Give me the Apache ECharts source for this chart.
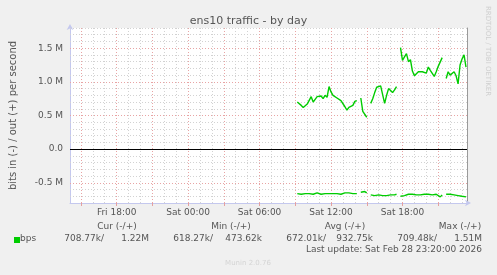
<!DOCTYPE html>
<html><head><meta charset="utf-8">
<script src="https://cdn.jsdelivr.net/npm/echarts@6/dist/echarts.min.js"></script>
<style>html,body{margin:0;padding:0;background:#f0f0f0;}#c{width:497px;height:275px;}</style>
</head><body><div id="c"></div>
<script>
// time in minutes relative to Sat 00:00; samples every 10 minutes starting Sat 09:10
const startMinute = 550;
const stepMinutes = 10;
// out (+) traffic, Mbit/s
const outValues = [0.70,0.68,0.65,0.62,0.62,0.67,0.69,0.78,0.70,0.74,0.78,0.77,0.79,0.75,0.80,0.77,0.93,0.85,0.80,0.80,0.76,0.74,0.72,0.71,
  0.63,0.58,0.62,0.60,0.65,0.71,0.72,null,0.76,0.56,0.54,0.474,null,
  0.68,0.75,0.84,0.92,0.91,0.94,0.92,0.68,0.80,0.90,0.89,0.84,0.88,0.93,null,
  1.51,1.32,1.37,1.42,1.30,1.33,1.16,1.09,1.08,1.15,1.17,1.15,1.13,1.13,1.22,1.17,1.18,1.08,1.15,1.23,1.22,1.36,null,
  1.05,1.15,1.10,1.10,1.15,1.09,0.97,1.25,1.34,1.40,1.22];
// in (-) traffic, Mbit/s (drawn negative)
const inValues = [-0.66,-0.66,-0.67,-0.66,-0.66,-0.67,-0.66,-0.66,-0.67,-0.66,-0.65,-0.66,-0.67,-0.66,-0.66,-0.67,-0.66,-0.66,-0.66,-0.67,-0.66,-0.66,-0.67,-0.66,
  -0.65,-0.64,-0.65,-0.66,-0.66,-0.66,-0.66,null,-0.64,-0.618,-0.63,-0.65,null,
  -0.68,-0.69,-0.69,-0.68,-0.68,-0.68,-0.69,-0.70,-0.69,-0.69,-0.68,-0.68,-0.68,-0.67,null,
  -0.70,-0.69,-0.69,-0.68,-0.67,-0.67,-0.67,-0.67,-0.68,-0.69,-0.68,-0.67,-0.67,-0.665,-0.67,-0.68,-0.68,-0.68,-0.67,-0.69,-0.709,-0.68,null,
  -0.67,-0.67,-0.67,-0.67,-0.68,-0.68,-0.69,-0.70,-0.70,-0.70,-0.709];
const xLabelMinutes = [-360, 0, 360, 720, 1080];
const xLabelTexts = ['Fri 18:00','Sat 00:00','Sat 06:00','Sat 12:00','Sat 18:00'];
const yLabelValues = [-0.5, 0, 0.5, 1.0, 1.5];
const yLabelTexts = ['-0.5 M','0.0','0.5 M','1.0 M','1.5 M'];
const legendHeaders = ['Cur (-/+)','Min (-/+)','Avg (-/+)','Max (-/+)'];
const legendIn = ['708.77k/','618.27k/','672.01k/','709.48k/'];
const legendOut = ['1.22M','473.62k','932.75k','1.51M'];
const seriesName = 'bps';
const lastUpdate = 'Last update: Sat Feb 28 23:20:00 2026';

const X_MIN = -595, X_MAX = 1405, Y_MIN = -0.8, Y_MAX = 1.8;
const FONT = 'DejaVu Sans';
const TXT = '#555';
const GREEN = '#00cc00';

function pairs(vals){ return vals.map((v,i)=>[startMinute + i*stepMinutes, v]); }
const minorX=[], majorX=[], tickX=[];
for(let h=-9; h<=23; h++){ if(h%3===0){majorX.push(h*60); tickX.push(h*60);} else minorX.push(h*60); }
const minorY=[], majorY=[];
for(let k=-7; k<=18; k++){ if(k===0) continue; if(k%5===0) majorY.push(k/10); else minorY.push(k/10); }

function yLab(v){ for(let i=0;i<yLabelValues.length;i++){ if(Math.abs(v-yLabelValues[i])<1e-6) return yLabelTexts[i]; } return ''; }
function xLab(v){ for(let i=0;i<xLabelMinutes.length;i++){ if(Math.abs(v-xLabelMinutes[i])<1e-6) return xLabelTexts[i]; } return ''; }

const chart = echarts.init(document.getElementById('c'));
const headerX = [117, 231, 345, 460];
const inRight = [104, 213, 326, 437];
const outRight = [149, 262, 373, 482];
const graphics = [];
legendHeaders.forEach((t,i)=>graphics.push({type:'text', x:headerX[i], y:227, style:{text:t, fill:TXT, font:'9px "DejaVu Sans"', textAlign:'center', textVerticalAlign:'middle'}}));
legendIn.forEach((t,i)=>graphics.push({type:'text', x:inRight[i], y:239, style:{text:t, fill:TXT, font:'9px "DejaVu Sans"', textAlign:'right', textVerticalAlign:'middle'}}));
legendOut.forEach((t,i)=>graphics.push({type:'text', x:outRight[i], y:239, style:{text:t, fill:TXT, font:'9px "DejaVu Sans"', textAlign:'right', textVerticalAlign:'middle'}}));
graphics.push({type:'rect', shape:{x:14, y:237, width:6, height:6}, style:{fill:GREEN}});
graphics.push({type:'text', x:20, y:239, style:{text:seriesName, fill:TXT, font:'9px "DejaVu Sans"', textAlign:'left', textVerticalAlign:'middle'}});
graphics.push({type:'text', x:482, y:249.5, style:{text:lastUpdate, fill:TXT, font:'9px "DejaVu Sans"', textAlign:'right', textVerticalAlign:'middle'}});
graphics.push({type:'text', x:248, y:263, style:{text:'Munin 2.0.76', fill:'#d4d4d4', font:'7px "DejaVu Sans"', textAlign:'center', textVerticalAlign:'middle'}});
graphics.push({type:'text', x:487.5, y:51, rotation:-Math.PI/2, style:{text:'RRDTOOL / TOBI OETIKER', fill:'#cfcfcf', font:'7px "DejaVu Sans"', textAlign:'center', textVerticalAlign:'middle'}});
graphics.push({type:'text', x:248.5, y:21.5, style:{text:'ens10 traffic - by day', fill:TXT, font:'11px "DejaVu Sans"', textAlign:'center', textVerticalAlign:'middle'}});

const mlBase = {silent:true, symbol:['none','none'], label:{show:false}, animation:false, emphasis:{disabled:true}};
chart.setOption({
  animation:false,
  backgroundColor:'#f0f0f0',
  grid:{left:67, right:30, top:28, bottom:72, show:true, backgroundColor:'#ffffff', borderWidth:0},
  xAxis:{type:'value', min:X_MIN, max:X_MAX, interval:5,
    splitLine:{show:false},
    axisLine:{show:true, onZero:false, lineStyle:{color:'#c4c8ee', width:1}, symbol:['none','arrow'], symbolSize:[5,6], symbolOffset:[0,4]},
    axisTick:{show:true, customValues:tickX, length:3, lineStyle:{color:'#e4a0a0'}},
    axisLabel:{customValues:xLabelMinutes, formatter:xLab, color:TXT, fontFamily:FONT, fontSize:9, margin:5}},
  yAxis:[{type:'value', min:Y_MIN, max:Y_MAX, interval:0.1,
    splitLine:{show:false}, axisTick:{show:false},
    axisLine:{show:true, onZero:false, lineStyle:{color:'#c4c8ee', width:1}, symbol:['none','arrow'], symbolSize:[5,6], symbolOffset:[0,4]},
    axisLabel:{formatter:yLab, color:TXT, fontFamily:FONT, fontSize:9, margin:7},
    name:'bits in (-) / out (+) per second', nameLocation:'middle', nameGap:52, nameRotate:90,
    nameTextStyle:{color:TXT, fontFamily:FONT, fontSize:10}},
   {type:'value', position:'right', min:Y_MIN, max:Y_MAX,
    splitLine:{show:false}, axisTick:{show:false}, axisLabel:{show:false},
    axisLine:{show:true, onZero:false, lineStyle:{color:'#9a9a9a', width:1}}}],
  graphic:graphics,
  series:[
    {type:'line', data:[], z:1, silent:true, markLine:Object.assign({}, mlBase, {lineStyle:{color:'#d2d2d2', type:[1,2], width:1},
      data:minorX.map(m=>({xAxis:m})).concat(minorY.map(v=>({yAxis:v})))})},
    {type:'line', data:[], z:2, silent:true, markLine:Object.assign({}, mlBase, {lineStyle:{color:'#e8a4a4', type:[1,2], width:1},
      data:majorX.map(m=>({xAxis:m})).concat(majorY.map(v=>({yAxis:v})))})},
    {type:'line', data:[], z:3, silent:true, markLine:Object.assign({}, mlBase, {lineStyle:{color:'#000000', type:'solid', width:1},
      data:[{yAxis:0}]})},
    {name:'out', type:'line', z:5, data:pairs(outValues), showSymbol:false, connectNulls:false, lineStyle:{color:GREEN, width:1.4}, itemStyle:{color:GREEN}},
    {name:'in', type:'line', z:5, data:pairs(inValues), showSymbol:false, connectNulls:false, lineStyle:{color:GREEN, width:1.4}, itemStyle:{color:GREEN}}
  ]
});
</script></body></html>
